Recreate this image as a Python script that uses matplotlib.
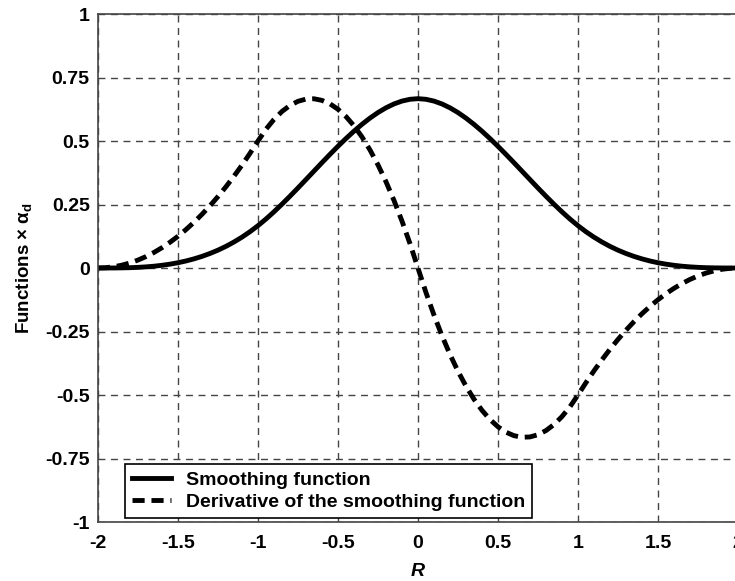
import matplotlib
matplotlib.use("Agg")
import matplotlib.pyplot as plt

# R values and curves (step 0.05)
r = [-2.0, -1.95, -1.9, -1.85, -1.8, -1.75, -1.7, -1.65, -1.6, -1.55,
     -1.5, -1.45, -1.4, -1.35, -1.3, -1.25, -1.2, -1.15, -1.1, -1.05,
     -1.0, -0.95, -0.9, -0.85, -0.8, -0.75, -0.7, -0.65, -0.6, -0.55,
     -0.5, -0.45, -0.4, -0.35, -0.3, -0.25, -0.2, -0.15, -0.1, -0.05,
     0.0, 0.05, 0.1, 0.15, 0.2, 0.25, 0.3, 0.35, 0.4, 0.45,
     0.5, 0.55, 0.6, 0.65, 0.7, 0.75, 0.8, 0.85, 0.9, 0.95,
     1.0, 1.05, 1.1, 1.15, 1.2, 1.25, 1.3, 1.35, 1.4, 1.45,
     1.5, 1.55, 1.6, 1.65, 1.7, 1.75, 1.8, 1.85, 1.9, 1.95, 2.0]

smoothing = [0.0, 0.0, 0.0002, 0.0006, 0.0013, 0.0026, 0.0045, 0.0071, 0.0107, 0.0152,
             0.0208, 0.0277, 0.036, 0.0458, 0.0572, 0.0703, 0.0853, 0.1024, 0.1215, 0.1429,
             0.1667, 0.1929, 0.2212, 0.2513, 0.2827, 0.3151, 0.3482, 0.3815, 0.4147, 0.4474,
             0.4792, 0.5097, 0.5387, 0.5656, 0.5902, 0.612, 0.6307, 0.6459, 0.6572, 0.6642,
             0.6667, 0.6642, 0.6572, 0.6459, 0.6307, 0.612, 0.5902, 0.5656, 0.5387, 0.5097,
             0.4792, 0.4474, 0.4147, 0.3815, 0.3482, 0.3151, 0.2827, 0.2513, 0.2212, 0.1929,
             0.1667, 0.1429, 0.1215, 0.1024, 0.0853, 0.0703, 0.0572, 0.0458, 0.036, 0.0277,
             0.0208, 0.0152, 0.0107, 0.0071, 0.0045, 0.0026, 0.0013, 0.0006, 0.0002, 0.0, 0.0]

derivative = [0.0, 0.0013, 0.005, 0.0113, 0.02, 0.0313, 0.045, 0.0613, 0.08, 0.1013,
              0.125, 0.1513, 0.18, 0.2113, 0.245, 0.2813, 0.32, 0.3613, 0.405, 0.4513,
              0.5, 0.5463, 0.585, 0.6163, 0.64, 0.6563, 0.665, 0.6663, 0.66, 0.6463,
              0.625, 0.5963, 0.56, 0.5163, 0.465, 0.4063, 0.34, 0.2663, 0.185, 0.0963,
              0.0, -0.0963, -0.185, -0.2663, -0.34, -0.4063, -0.465, -0.5163, -0.56, -0.5963,
              -0.625, -0.6463, -0.66, -0.6663, -0.665, -0.6563, -0.64, -0.6163, -0.585, -0.5463,
              -0.5, -0.4513, -0.405, -0.3613, -0.32, -0.2813, -0.245, -0.2113, -0.18, -0.1513,
              -0.125, -0.1013, -0.08, -0.0613, -0.045, -0.0313, -0.02, -0.0113, -0.005, -0.0013, 0.0]

xticks = [-2, -1.5, -1, -0.5, 0, 0.5, 1, 1.5, 2]
xticklabels = ["-2", "-1.5", "-1", "-0.5", "0", "0.5", "1", "1.5", "2"]
yticks = [-1, -0.75, -0.5, -0.25, 0, 0.25, 0.5, 0.75, 1]
yticklabels = ["-1", "-0.75", "-0.5", "-0.25", "0", "0.25", "0.5", "0.75", "1"]

plt.rcParams['font.family'] = ['Liberation Sans', 'DejaVu Sans']
plt.rcParams['font.weight'] = 'bold'

fig = plt.figure(figsize=(7.35, 5.81), dpi=100)
ax = fig.add_axes([0.1333, 0.1015, 0.8707, 0.8744])

ax.plot(r, smoothing, color='black', lw=3.5, label='Smoothing function')
ax.plot(r, derivative, color='black', lw=3.5, linestyle=(0, (2.5, 1.4)),
        label='Derivative of the smoothing function')

ax.set_xlim(-2, 2)
ax.set_ylim(-1, 1)
ax.set_xticks(xticks)
ax.set_xticklabels(xticklabels, fontsize=14, fontweight='bold')
ax.set_yticks(yticks)
ax.set_yticklabels(yticklabels, fontsize=14, fontweight='bold')
ax.tick_params(axis='x', length=0, pad=9)
ax.tick_params(axis='y', length=0, pad=6)

ax.grid(True, color='#444444', lw=1, linestyle=(0, (5, 4)))
for s in ax.spines.values():
    s.set_color('#444444')
    s.set_linewidth(1.2)

ax.set_xlabel('R', fontsize=14, fontweight='bold', style='italic', labelpad=8)
ax.set_ylabel('Functions × α$_\\mathregular{d}$', fontsize=13.5, fontweight='bold', labelpad=7)

leg = ax.legend(loc='lower left', bbox_to_anchor=(0.042, 0.008), borderaxespad=0,
                fancybox=False, framealpha=1, edgecolor='black',
                prop={'size': 14, 'weight': 'bold'}, handlelength=2.0,
                borderpad=0.35, labelspacing=0.25, handletextpad=0.8)
leg.get_frame().set_linewidth(1.2)

fig.savefig('out.png', dpi=100)
